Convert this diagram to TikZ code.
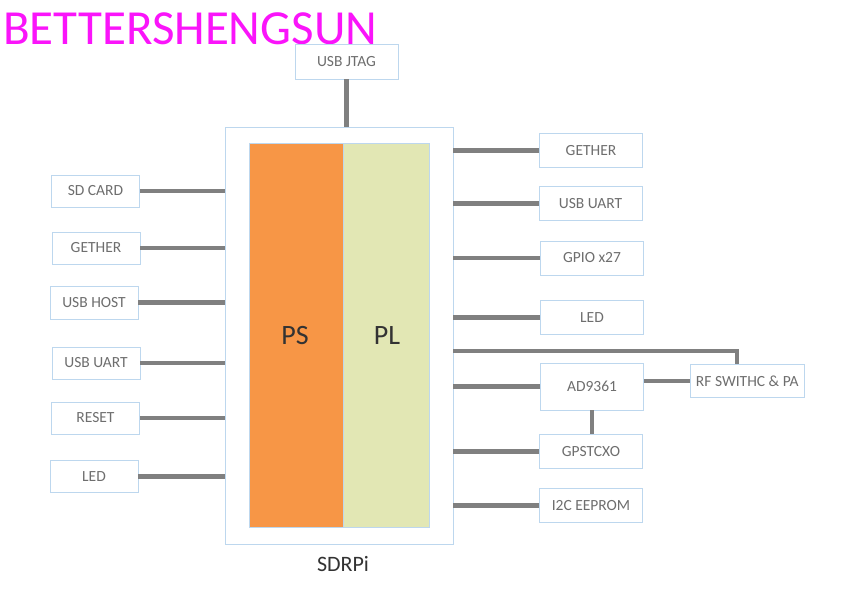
\documentclass[tikz,border=0pt]{standalone}
\usepackage{fontspec}
\setmainfont{Carlito}
\definecolor{boxline}{RGB}{189,215,238}
\definecolor{wire}{RGB}{128,128,128}
\definecolor{lbl}{RGB}{110,110,110}
\definecolor{psfill}{RGB}{247,150,70}
\definecolor{plfill}{RGB}{226,231,180}
\definecolor{title}{RGB}{250,20,250}
\begin{document}
\begin{tikzpicture}[x=1pt,y=-1pt,
  blk/.style={draw=boxline,line width=0.9pt,fill=white,inner sep=0pt,
    text=lbl,font=\fontsize{15.5}{17}\selectfont},
  wr/.style={draw=wire,line width=4.2pt}]
\useasboundingbox[fill=white] (0,0) rectangle (845,610);
% title
\node[anchor=base west,inner sep=0pt,text=title,font=\fontsize{49}{52}\selectfont] (ttl) at (3,44.5) {BETTERSHENGSUN};
% main box
\node[draw=boxline,line width=0.9pt,minimum width=228pt,minimum height=417pt,inner sep=0pt] (sdr) at (339,335.5) {};
\node[draw=boxline,line width=0.8pt,fill=psfill,minimum width=94pt,minimum height=384pt,inner sep=0pt] (ps) at (296,335) {};
\node[draw=boxline,line width=0.8pt,fill=plfill,minimum width=86pt,minimum height=384pt,inner sep=0pt] (pl) at (386,335) {};
\node[text=black!80,font=\fontsize{28}{30}\selectfont] (pst) at (295,336) {PS};
\node[text=black!80,font=\fontsize{28}{30}\selectfont] (plt) at (387,336) {PL};
\node[text=black!80,font=\fontsize{22}{24}\selectfont] (sdrt) at (343,564) {SDRPi};
% top
\node[blk,minimum width=103pt,minimum height=35pt] (jtag) at (346.5,61.5) {USB JTAG};
% left boxes
\node[blk,minimum width=88pt,minimum height=32pt] (sd) at (95.5,191) {SD CARD};
\node[blk,minimum width=88pt,minimum height=32pt] (geth) at (96,248) {GETHER};
\node[blk,minimum width=88pt,minimum height=33pt] (host) at (94,302.5) {USB HOST};
\node[blk,minimum width=88pt,minimum height=32pt] (luart) at (96,363) {USB UART};
\node[blk,minimum width=88pt,minimum height=32pt] (reset) at (95.5,418) {RESET};
\node[blk,minimum width=88pt,minimum height=32pt] (lled) at (94,476.5) {LED};
% right boxes
\node[blk,minimum width=103pt,minimum height=34pt] (rgeth) at (591,150.5) {GETHER};
\node[blk,minimum width=103pt,minimum height=34pt] (ruart) at (590.5,203.5) {USB UART};
\node[blk,minimum width=103pt,minimum height=34pt] (gpio) at (592,258) {GPIO x27};
\node[blk,minimum width=103pt,minimum height=34pt] (rled) at (592,317.5) {LED};
\node[blk,minimum width=103pt,minimum height=47pt] (ad) at (592,386.5) {AD9361};
\node[blk,minimum width=114pt,minimum height=33pt] (rf) at (747.3,380.8) {RF SWITHC \& PA};
\node[blk,minimum width=103pt,minimum height=34pt] (gps) at (591,451.5) {GPSTCXO};
\node[blk,minimum width=103pt,minimum height=34pt] (eep) at (591,505.5) {I2C EEPROM};
\coordinate (bend) at (736.7,350.7);
% wires
\draw[wr] (jtag.south) -- (jtag.south |- sdr.north);
\draw[wr] (sd.east) -- (sd.east -| sdr.west);
\draw[wr] (geth.east) -- (geth.east -| sdr.west);
\draw[wr] (host.east) -- (host.east -| sdr.west);
\draw[wr] (luart.east) -- (luart.east -| sdr.west);
\draw[wr] (reset.east) -- (reset.east -| sdr.west);
\draw[wr] (lled.east) -- (lled.east -| sdr.west);
\draw[wr] (rgeth.west) -- (rgeth.west -| sdr.east);
\draw[wr] (ruart.west) -- (ruart.west -| sdr.east);
\draw[wr] (gpio.west) -- (gpio.west -| sdr.east);
\draw[wr] (rled.west) -- (rled.west -| sdr.east);
\draw[wr] (ad.west) -- (ad.west -| sdr.east);
\draw[wr] (gps.west) -- (gps.west -| sdr.east);
\draw[wr] (eep.west) -- (eep.west -| sdr.east);
\draw[wr] (bend -| sdr.east) -- (bend) -- (bend |- rf.north);
\draw[wr] (rf.west) -- (rf.west -| ad.east);
\draw[wr] (ad.south) -- (ad.south |- gps.north);
\end{tikzpicture}
\end{document}
